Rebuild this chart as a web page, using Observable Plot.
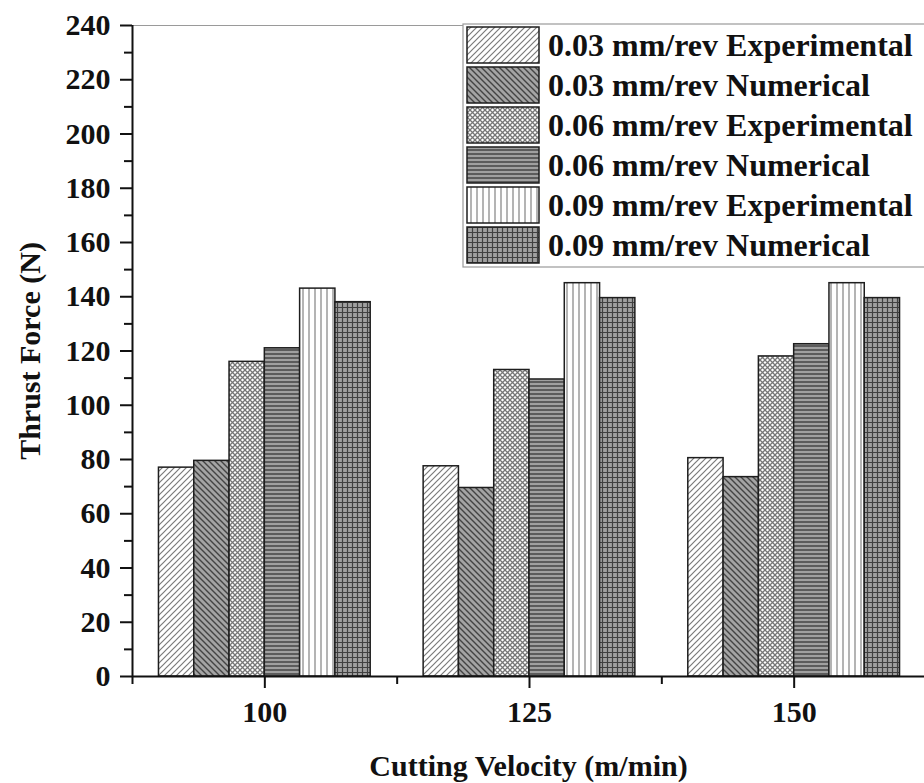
<!DOCTYPE html>
<html><head><meta charset="utf-8">
<script src="https://cdn.jsdelivr.net/npm/d3@7"></script>
<script src="https://cdn.jsdelivr.net/npm/@observablehq/plot@0.6"></script>
<style>
body{margin:0;background:#fff}
#chart{width:924px;height:783px}
</style></head><body><div id="chart"></div>
<script>
// ---- data ----
const velocities = [100, 125, 150];
const seriesNames = [
  "0.03 mm/rev Experimental",
  "0.03 mm/rev Numerical",
  "0.06 mm/rev Experimental",
  "0.06 mm/rev Numerical",
  "0.09 mm/rev Experimental",
  "0.09 mm/rev Numerical"
];
const exp003 = [77, 77.5, 80.5];
const num003 = [79.5, 69.5, 73.5];
const exp006 = [116, 113, 118];
const num006 = [121, 109.5, 122.5];
const exp009 = [143, 145, 145];
const num009 = [138, 139.5, 139.5];
const seriesValues = [exp003, num003, exp006, num006, exp009, num009];
const yMajorTicks = [0, 20, 40, 60, 80, 100, 120, 140, 160, 180, 200, 220, 240];
const yMinorTicks = [10, 30, 50, 70, 90, 110, 130, 150, 170, 190, 210, 230];
const xMajorTicks = [100, 125, 150];
const xMinorTicks = [87.5, 112.5, 137.5, 162.5];
const xTitle = "Cutting Velocity (m/min)";
const yTitle = "Thrust Force (N)";

// ---- layout helpers ----
const step = 25;           // spacing between velocity groups
const groupFrac = 0.8;     // fraction of spacing occupied by a group
const barW = step * groupFrac / seriesNames.length;
const font = "'Liberation Serif', 'Times New Roman', serif";

const barMarks = seriesValues.map((vals, i) =>
  Plot.rectY(velocities.map((v, j) => ({v, value: vals[j]})), {
    x1: d => d.v - step * groupFrac / 2 + i * barW,
    x2: d => d.v - step * groupFrac / 2 + (i + 1) * barW,
    y1: 0,
    y2: "value",
    fill: `url(#pat${i})`,
    stroke: "#1e1e1e",
    strokeWidth: 1.5
  })
);

const svg = Plot.plot({
  width: 924,
  height: 783,
  marginLeft: 132,
  marginRight: 0,
  marginTop: 25,
  marginBottom: 107,
  x: {domain: [87.5, 162.5], range: [132, 926]},
  y: {domain: [0, 240]},
  style: {fontFamily: font, fontSize: "30px", fontWeight: "bold", color: "#111", background: "#fff"},
  marks: [
    ...barMarks,
    Plot.ruleY([240], {stroke: "#9a9a9a", strokeWidth: 1}),
    Plot.ruleY([0], {stroke: "#111", strokeWidth: 2}),
    Plot.ruleX([87.5], {y1: 0, y2: 240, stroke: "#111", strokeWidth: 2}),
    Plot.axisY(yMajorTicks, {tickSize: 12, tickPadding: 10, strokeWidth: 2, stroke: "#111", fill: "#111", label: null}),
    Plot.axisY(yMinorTicks, {tickSize: 8, strokeWidth: 2, stroke: "#111", tickFormat: () => "", label: null}),
    Plot.axisX(xMajorTicks, {tickSize: 12, tickPadding: 12, strokeWidth: 2, stroke: "#111", fill: "#111", label: null}),
    Plot.axisX(xMinorTicks, {tickSize: 8, strokeWidth: 2, stroke: "#111", tickFormat: () => "", label: null}),
    Plot.text([xTitle], {frameAnchor: "bottom", lineAnchor: "middle", textAnchor: "middle", dy: 90,
      text: d => d, fill: "#111", fontSize: 30, fontWeight: "bold"}),
    Plot.text([yTitle], {frameAnchor: "left", lineAnchor: "middle", textAnchor: "middle", dx: -102, rotate: -90,
      text: d => d, fill: "#111", fontSize: 30, fontWeight: "bold"})
  ]
});

// ---- patterns ----
const defs = d3.select(svg).insert("defs", ":first-child");
function pat(id, w, h, bg, paths, stroke, sw) {
  const p = defs.append("pattern").attr("id", id).attr("patternUnits", "userSpaceOnUse")
    .attr("width", w).attr("height", h);
  p.append("rect").attr("width", w).attr("height", h).attr("fill", bg);
  p.append("path").attr("d", paths).attr("stroke", stroke).attr("stroke-width", sw).attr("fill", "none");
}
pat("pat0", 6, 6, "#ffffff", "M-1,1 L1,-1 M0,6 L6,0 M5,7 L7,5", "#7a7a7a", 1.2);
pat("pat1", 6, 6, "#a4a4a4", "M-1,5 L1,7 M0,0 L6,6 M5,-1 L7,1", "#444444", 1.4);
pat("pat2", 5, 5, "#ffffff", "M-1,-1 L6,6 M6,-1 L-1,6", "#777777", 1.3);
pat("pat3", 4, 4, "#a0a0a0", "M0,2 L4,2", "#4a4a4a", 1.6);
pat("pat4", 6, 6, "#ffffff", "M3,0 L3,6", "#8c8c8c", 1.3);
pat("pat5", 5, 5, "#a0a0a0", "M0,2.5 L5,2.5 M2.5,0 L2.5,5", "#404040", 1.2);

// ---- legend ----
const lg = d3.select(svg).append("g").attr("class", "legend").attr("text-anchor", "start");
lg.append("rect").attr("x", 463).attr("y", 24).attr("width", 470).attr("height", 243)
  .attr("fill", "#fff").attr("stroke", "#9a9a9a").attr("stroke-width", 1.2);
seriesNames.forEach((name, i) => {
  lg.append("rect").attr("x", 467).attr("y", 27 + 40 * i).attr("width", 72).attr("height", 36)
    .attr("fill", `url(#pat${i})`).attr("stroke", "#1e1e1e").attr("stroke-width", 1.5);
  lg.append("text").attr("x", 548).attr("y", 45 + 40 * i).attr("dy", "0.35em")
    .attr("text-anchor", "start")
    .attr("font-family", font).attr("font-weight", "bold").attr("font-size", 32)
    .attr("fill", "#111").text(name);
});

document.getElementById("chart").appendChild(svg);
</script></body></html>
